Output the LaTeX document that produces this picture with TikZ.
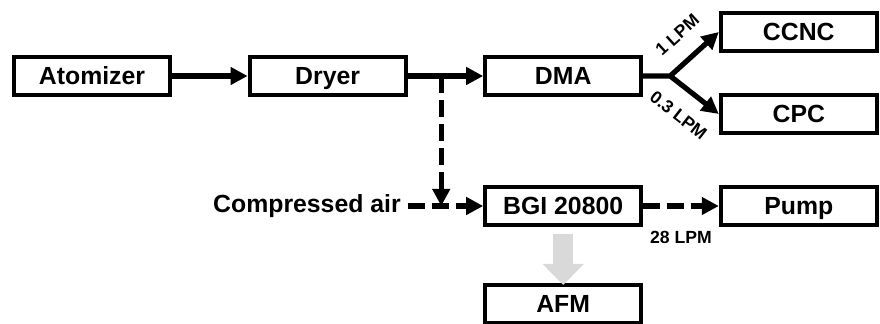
\documentclass[tikz,border=0pt]{standalone}
\usepackage{fontspec}
\setmainfont{Liberation Sans}
\usetikzlibrary{arrows.meta,positioning,calc}
\begin{document}
\begin{tikzpicture}[
    x=0.5pt, y=-0.5pt,
    node distance=44pt and 37.8pt,
    font=\bfseries\fontsize{12.4}{14}\selectfont,
    unit/.style={draw, line width=2pt, minimum width=78pt, minimum height=19pt, inner sep=0pt, text height=8.9pt, text depth=0pt},
    flow/.style={-{Triangle[length=8.5pt,width=8.5pt]}, line width=2.6pt},
    dflow/.style={flow, dash pattern=on 8.5pt off 3.5pt},
    lab/.style={font=\bfseries\fontsize{8.8}{10}\selectfont, inner sep=1.5pt},
    pass/.style={-{Triangle[length=10.5pt,width=20pt]}, line width=10pt, black!15}
]
\useasboundingbox (0,0) rectangle (880,324);
\node[unit] (atom) at (92,76) {Atomizer};
\node[unit, right=of atom] (dryer) {Dryer};
\node[unit, right=of dryer] (dma) {DMA};
\node[unit, right=of dma, yshift=22pt] (ccnc) {CCNC};
\node[unit, right=of dma, yshift=-19pt] (cpc) {CPC};
\node[unit, below=of dma] (bgi) {BGI 20800};
\node[unit, right=of bgi] (pump) {Pump};
\node[unit, below=28pt of bgi] (afm) {AFM};
\node[inner sep=3.25pt, left=of bgi] (air) {Compressed air};
\coordinate (tap) at ($(dryer.east)!0.445!(dma.west)$);
\coordinate (split) at ([xshift=13.5pt]dma.east);
\draw[flow] (atom) -- (dryer);
\draw[flow] (dryer) -- (dma);
\draw[flow] (dma) -- (split) -- node[lab, sloped, above=7pt] {1 LPM} (ccnc.west);
\draw[flow] (split) -- node[lab, sloped, below=7pt] {0.3 LPM} (cpc.west);
\draw[dflow] (tap) -- (tap |- air.east);
\draw[dflow] (air) -- (bgi);
\draw[dflow] (bgi) -- node[lab, below=10pt] {28 LPM} (pump);
\draw[pass] ([yshift=-3.5pt]bgi.south) -- ([yshift=-1pt]afm.north);
\end{tikzpicture}
\end{document}
